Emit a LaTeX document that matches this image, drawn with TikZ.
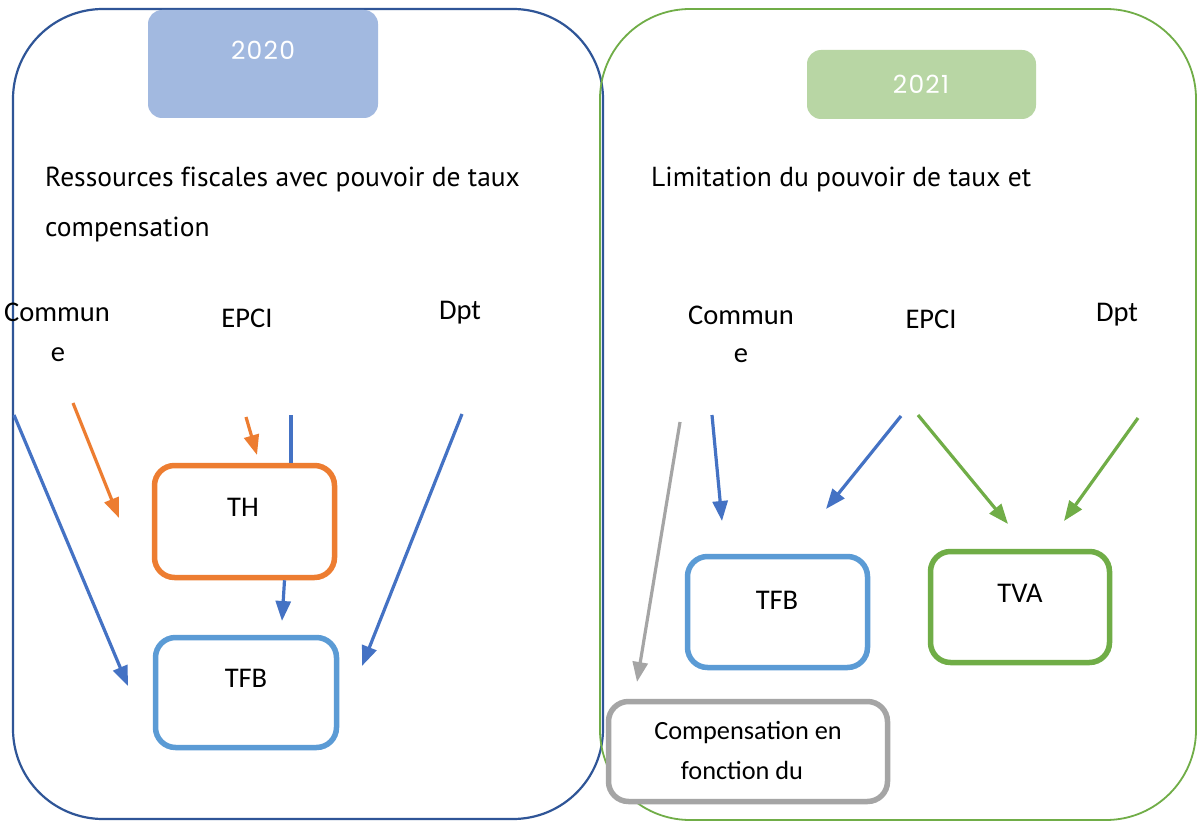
\documentclass[tikz,border=0pt]{standalone}
\usepackage{fontspec}
\setmainfont{Carlito}
\newfontfamily\headfont[Ligatures=NoCommon]{PT Sans}
\newfontfamily\yearfont[LetterSpace=5]{Poppins}
\usetikzlibrary{arrows.meta}
\definecolor{frameblue}{RGB}{47,85,151}
\definecolor{framegreen}{RGB}{112,173,71}
\definecolor{yearblue}{RGB}{162,185,224}
\definecolor{yeargreen}{RGB}{184,214,164}
\definecolor{orangec}{RGB}{237,125,49}
\definecolor{lightblue}{RGB}{91,155,213}
\definecolor{arrowblue}{RGB}{68,114,196}
\definecolor{grayc}{RGB}{165,165,165}
\begin{document}
\begin{tikzpicture}[x=1pt,y=-1pt,
  frame/.style={rounded corners=90pt, line width=2.2pt},
  yearbox/.style={rectangle, rounded corners=14pt, draw=none, inner sep=0pt},
  yeartext/.style={text=white, font=\yearfont\fontsize{25}{30}\selectfont, inner sep=0pt},
  head/.style={anchor=west, inner sep=0pt, font=\headfont\fontsize{27.5}{33}\selectfont},
  lbl/.style={inner sep=0pt, font=\fontsize{28.5}{34}\selectfont},
  taxbox/.style={rectangle, draw, line width=5.5pt, rounded corners=20pt, fill=white, inner sep=0pt},
  arr/.style={line width=3.2pt, -{Triangle[length=20pt,width=15pt]}},
  plain/.style={line width=3.2pt}
]
\useasboundingbox (0,0) rectangle (1197,821);
\fill[white] (0,0) rectangle (1197,821);

% frames
\draw[frame, draw=frameblue] (13,9) rectangle (603,819);
\draw[frame, draw=framegreen, line width=1.8pt] (600,9) rectangle (1196,820);

% year boxes
\node[yearbox, fill=yearblue, minimum width=230pt, minimum height=108pt] (y20) at (263,64) {};
\node[yeartext] (y20t) at (263,50) {2020};
\node[yearbox, fill=yeargreen, minimum width=229pt, minimum height=69pt] (y21) at (921.5,84.5) {};
\node[yeartext] (y21t) at (921,84) {2021};

% headings
\node[head] (h1) at (45,180) {Ressources fiscales avec pouvoir de taux};
\node[head] (h2) at (45,230) {compensation};
\node[head] (h3) at (651,180) {Limitation du pouvoir de taux et};

% labels left
\node[lbl, anchor=west] (comL) at (4,312) {Commun};
\node[lbl] (comLe) at (58,355) {e};
\node[lbl] (epciL) at (247,318) {EPCI};
\node[lbl] (dptL) at (460,313) {Dpt};

% labels right
\node[lbl] (comR) at (741,315) {Commun};
\node[lbl] (comRe) at (741,356) {e};
\node[lbl] (epciR) at (931,319) {EPCI};
\node[lbl] (dptR) at (1117,315) {Dpt};

% tax boxes
\node[taxbox, draw=orangec, minimum width=180pt, minimum height=112pt] (th) at (244.5,521.5) {};
\node[lbl] (tht) at (243,507) {TH};
\node[taxbox, draw=lightblue, minimum width=181pt, minimum height=110pt] (tfbL) at (246,692.5) {};
\node[lbl] (tfbLt) at (246,678) {TFB};
\node[taxbox, draw=lightblue, minimum width=180pt, minimum height=111pt] (tfbR) at (777.5,612) {};
\node[lbl] (tfbRt) at (777,600) {TFB};
\node[taxbox, draw=framegreen, minimum width=179pt, minimum height=111pt] (tva) at (1020,607) {};
\node[lbl] (tvat) at (1020,593) {TVA};
\node[taxbox, draw=grayc, minimum width=279pt, minimum height=100pt] (comp) at (748,751.5) {};
\node[lbl, font=\fontsize{26.3}{31}\selectfont] (compt1) at (748,733) {Compensation en};
\node[lbl, font=\fontsize{26.3}{31}\selectfont] (compt2) at (742,770) {fonction du};

% connector end points
\coordinate (a1s) at (14,415);   \coordinate (a1e) at (128,686);
\coordinate (a2s) at (73,403);   \coordinate (a2e) at (119,518);
\coordinate (a3s) at (246,417);  \coordinate (a3e) at (257,455);
\coordinate (a4s) at (291,415);
\coordinate (a5e) at (282,621);
\coordinate (a6s) at (462,414);  \coordinate (a6e) at (362,666);
\coordinate (b1s) at (680,422);  \coordinate (b1e) at (637,682);
\coordinate (b2s) at (712,415);  \coordinate (b2e) at (722,521);
\coordinate (b3s) at (901,416);  \coordinate (b3e) at (826,509);
\coordinate (b4s) at (918,415);  \coordinate (b4e) at (1008,524);
\coordinate (b5s) at (1138,418); \coordinate (b5e) at (1064,521);

% connectors left
\draw[arr, draw=arrowblue] (a1s) -- (a1e);
\draw[arr, draw=orangec] (a2s) -- (a2e);
\draw[arr, draw=orangec] (a3s) -- (a3e);
\draw[plain, draw=arrowblue] (a4s) -- (a4s |- th.north);
\draw[arr, draw=arrowblue] ([xshift=40pt]th.south) -- (a5e);
\draw[arr, draw=arrowblue] (a6s) -- (a6e);

% connectors right
\draw[arr, draw=grayc] (b1s) -- (b1e);
\draw[arr, draw=arrowblue] (b2s) -- (b2e);
\draw[arr, draw=arrowblue] (b3s) -- (b3e);
\draw[arr, draw=framegreen] (b4s) -- (b4e);
\draw[arr, draw=framegreen] (b5s) -- (b5e);
\end{tikzpicture}
\end{document}
